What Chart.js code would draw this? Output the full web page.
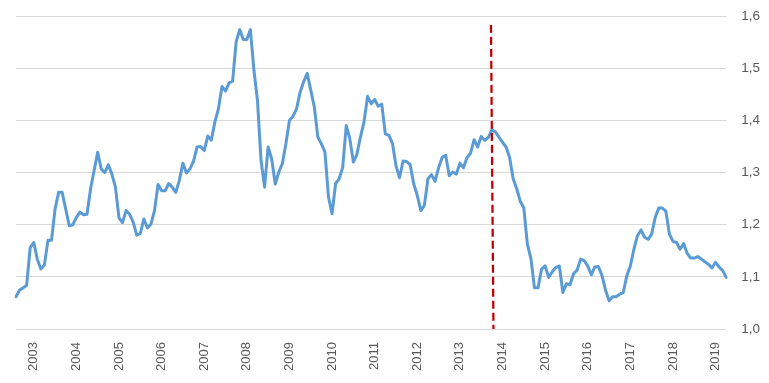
<!DOCTYPE html>
<html>
<head>
<meta charset="utf-8">
<script src="https://cdn.jsdelivr.net/npm/chart.js@4"></script>
<style>
  html, body { margin: 0; padding: 0; background: #ffffff; }
  #wrap { width: 769px; height: 383px; }
</style>
</head>
<body>
<div id="wrap"><canvas id="c" width="769" height="383"></canvas></div>
<script>
// ---- data ----
const startYear = 2002;
const startMonth = 8; // first observation: August 2002, monthly
const values = [
  1.062, 1.075, 1.079, 1.084, 1.156, 1.166, 1.134, 1.115, 1.123, 1.170,
  1.170, 1.230, 1.262, 1.262, 1.230, 1.198, 1.200, 1.214, 1.224, 1.219,
  1.220, 1.269, 1.304, 1.339, 1.307, 1.300, 1.315, 1.297, 1.272, 1.213,
  1.204, 1.227, 1.220, 1.205, 1.180, 1.183, 1.211, 1.194, 1.201, 1.227,
  1.277, 1.265, 1.265, 1.279, 1.272, 1.262, 1.285, 1.318, 1.299, 1.307,
  1.322, 1.349, 1.350, 1.342, 1.370, 1.362, 1.397, 1.422, 1.465, 1.456,
  1.472, 1.475, 1.551, 1.574, 1.555, 1.555, 1.574, 1.496, 1.438, 1.323,
  1.272, 1.349, 1.326, 1.278, 1.301, 1.317, 1.355, 1.400, 1.408, 1.422,
  1.454, 1.474, 1.490, 1.458, 1.426, 1.368, 1.355, 1.339, 1.253, 1.221,
  1.279, 1.288, 1.310, 1.390, 1.365, 1.320, 1.335, 1.368, 1.397, 1.446,
  1.432, 1.440, 1.427, 1.431, 1.374, 1.371, 1.356, 1.313, 1.290, 1.322,
  1.321, 1.315, 1.278, 1.256, 1.227, 1.237, 1.288, 1.296, 1.283, 1.309,
  1.329, 1.333, 1.294, 1.301, 1.297, 1.318, 1.309, 1.329, 1.337, 1.363,
  1.349, 1.369, 1.362, 1.367, 1.382, 1.378, 1.368, 1.358, 1.349, 1.329,
  1.288, 1.269, 1.245, 1.232, 1.163, 1.135, 1.079, 1.079, 1.115, 1.121,
  1.099, 1.110, 1.118, 1.121, 1.070, 1.087, 1.085, 1.106, 1.113, 1.134,
  1.131, 1.121, 1.104, 1.119, 1.120, 1.103, 1.075, 1.054, 1.062, 1.062,
  1.067, 1.070, 1.102, 1.121, 1.153, 1.179, 1.190, 1.176, 1.172, 1.182,
  1.214, 1.232, 1.232, 1.226, 1.182, 1.168, 1.166, 1.153, 1.164, 1.145,
  1.136, 1.136, 1.139, 1.134, 1.129, 1.124, 1.117, 1.128, 1.119, 1.112,
  1.099
];
const yTicks = [1.0, 1.1, 1.2, 1.3, 1.4, 1.5, 1.6];
const markerMonth = "2013-10";   // red dashed marker
const markerTopValue = 1.583;

// month categories
const categories = [];
for (let i = 0; i < values.length; i++) {
  const m0 = (startMonth - 1) + i;
  const y = startYear + Math.floor(m0 / 12);
  const m = (m0 % 12) + 1;
  categories.push(y + "-" + String(m).padStart(2, "0"));
}

const markerPlugin = {
  id: "marker",
  afterDatasetsDraw(chart) {
    const xs = chart.scales.x, ys = chart.scales.y;
    const idx = categories.indexOf(markerMonth);
    const xTop = xs.getPixelForValue(idx - 0.25);
    const xBot = xs.getPixelForValue(idx + 0.45);
    const yTop = ys.getPixelForValue(markerTopValue);
    const yBot = ys.getPixelForValue(1.0);
    const ctx = chart.ctx;
    ctx.save();
    ctx.strokeStyle = "#C00000";
    ctx.lineWidth = 2.25;
    ctx.setLineDash([8, 4]);
    ctx.beginPath();
    ctx.moveTo(xTop, yTop);
    ctx.lineTo(xBot, yBot);
    ctx.stroke();
    ctx.restore();
  }
};

const FONT = "'Liberation Sans', Arial, sans-serif";

new Chart(document.getElementById("c"), {
  type: "line",
  data: {
    labels: categories,
    datasets: [{
      data: values,
      borderColor: "#5B9BD5",
      borderWidth: 3,
      pointRadius: 0,
      tension: 0,
      fill: false,
      borderJoinStyle: "round",
      borderCapStyle: "round"
    }]
  },
  options: {
    responsive: false,
    animation: false,
    layout: { padding: { left: 16, right: 9, top: 16, bottom: 12 } },
    plugins: { legend: { display: false }, tooltip: { enabled: false } },
    scales: {
      x: {
        type: "category",
        offset: false,
        grid: { display: true, drawOnChartArea: false, drawTicks: true, tickLength: 13, tickColor: "rgba(0,0,0,0)" },
        border: { display: false },
        ticks: {
          autoSkip: false,
          minRotation: 90,
          maxRotation: 90,
          padding: 0,
          color: "#595959",
          font: { family: FONT, size: 13 },
          callback: function (v, i) {
            const lab = categories[i];
            return lab.endsWith("-01") ? lab.slice(0, 4) : "";
          }
        }
      },
      y: {
        position: "right",
        min: 1.0,
        max: 1.6,
        afterBuildTicks: (axis) => { axis.ticks = yTicks.map(v => ({ value: v })); },
        grid: { color: "#D9D9D9", lineWidth: 1, drawTicks: true, tickLength: 15, tickColor: "rgba(0,0,0,0)" },
        border: { display: false },
        ticks: {
          padding: 0,
          color: "#595959",
          font: { family: FONT, size: 13.5 },
          callback: (v) => Number(v).toFixed(1).replace(".", ",")
        }
      }
    }
  },
  plugins: [markerPlugin]
});
</script>
</body>
</html>
